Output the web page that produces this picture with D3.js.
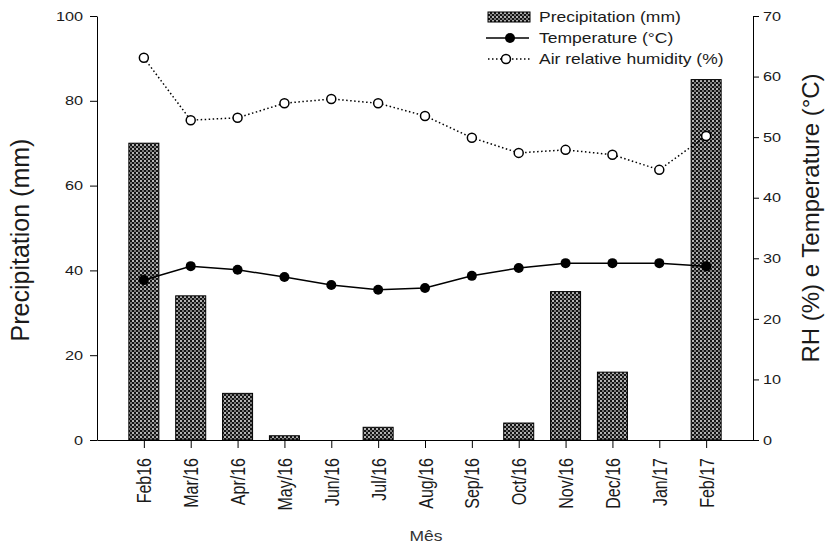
<!DOCTYPE html>
<html>
<head>
<meta charset="utf-8">
<script src="https://cdn.jsdelivr.net/npm/d3@7"></script>
<style>
  body { margin: 0; background: #fff; }
  text { font-family: "Liberation Sans", Arial, sans-serif; fill: #1a1a1a; }
</style>
</head>
<body>
<script>
var months = ["Feb16","Mar/16","Apr/16","May/16","Jun/16","Jul/16","Aug/16","Sep/16","Oct/16","Nov/16","Dec/16","Jan/17","Feb/17"];
var precipitation = [70, 34, 11, 1, 0, 3, 0, 0, 4, 35, 16, 0, 85];
var temperature = [26.4, 28.7, 28.1, 26.9, 25.6, 24.8, 25.1, 27.1, 28.4, 29.2, 29.2, 29.2, 28.7];
var humidity = [63.1, 52.8, 53.2, 55.6, 56.3, 55.6, 53.5, 49.9, 47.4, 47.9, 47.1, 44.6, 50.2];
var leftTicks = [0, 20, 40, 60, 80, 100];
var rightTicks = [0, 10, 20, 30, 40, 50, 60, 70];
var legendLabels = ["Precipitation (mm)", "Temperature (°C)", "Air relative humidity (%)"];

function init() {
    var w = 832;
    var h = 544;
    var left = 97, right = 753, top = 16, bottom = 440;
    var sx = 1.25; // text in the original is stretched sideways

    var svg = d3.select("body")
                .append("svg")
                .attr("width", w)
                .attr("height", h);

    // checkered fill for the bars
    var pat = svg.append("defs").append("pattern")
                .attr("id", "checks")
                .attr("width", 4)
                .attr("height", 4)
                .attr("patternUnits", "userSpaceOnUse");
    pat.append("rect").attr("width", 4).attr("height", 4).attr("fill", "#141414");
    pat.append("rect").attr("x", 0).attr("y", 0).attr("width", 2).attr("height", 2).attr("fill", "#b4b4b4");
    pat.append("rect").attr("x", 2).attr("y", 2).attr("width", 2).attr("height", 2).attr("fill", "#7a7a7a");

    var xScale = d3.scalePoint()
                .domain(months)
                .range([left, right])
                .padding(1);
    var yP = d3.scaleLinear().domain([0, 100]).range([bottom, top]);
    var yR = d3.scaleLinear().domain([0, 70]).range([bottom, top]);
    var barW = 30;

    // bars
    svg.selectAll("rect.bar")
        .data(precipitation)
        .enter()
        .append("rect")
        .attr("class", "bar")
        .attr("x", function(d, i) { return xScale(months[i]) - barW / 2; })
        .attr("y", function(d) { return yP(d); })
        .attr("width", barW)
        .attr("height", function(d) { return bottom - yP(d); })
        .attr("fill", "url(#checks)")
        .attr("stroke", "#000")
        .attr("stroke-width", 1)
        .style("display", function(d) { return d > 0 ? null : "none"; });

    // axes
    var axL = svg.append("g")
        .attr("transform", "translate(" + left + ",0)")
        .call(d3.axisLeft(yP).tickValues(leftTicks).tickSize(7).tickSizeOuter(0));
    axL.selectAll("text")
        .attr("x", -14 / sx)
        .attr("transform", "scale(" + sx + ",1)")
        .style("font-size", "13px");

    var axR = svg.append("g")
        .attr("transform", "translate(" + right + ",0)")
        .call(d3.axisRight(yR).tickValues(rightTicks).tickSize(6).tickSizeOuter(0));
    axR.selectAll("text")
        .attr("x", 10 / sx)
        .attr("transform", "scale(" + sx + ",1)")
        .style("font-size", "13px");

    var axB = svg.append("g")
        .attr("transform", "translate(0," + bottom + ")")
        .call(d3.axisBottom(xScale).tickSize(8).tickSizeOuter(0));
    axB.selectAll("text")
        .attr("x", -18)
        .attr("y", 0)
        .attr("dy", "0.35em")
        .attr("transform", "rotate(-90) scale(1," + sx + ")")
        .style("text-anchor", "end")
        .style("font-size", "16px");

    svg.selectAll(".domain, .tick line").attr("stroke", "#000");
    svg.selectAll(".tick text").attr("fill", "#1a1a1a").style("font-family", "'Liberation Sans', Arial, sans-serif");

    // lines
    var tempLine = d3.line()
        .x(function(d, i) { return xScale(months[i]); })
        .y(function(d) { return yR(d); });

    svg.append("path")
        .datum(temperature)
        .attr("d", tempLine)
        .attr("fill", "none")
        .attr("stroke", "#000")
        .attr("stroke-width", 1.5);

    svg.selectAll("circle.temp")
        .data(temperature)
        .enter()
        .append("circle")
        .attr("class", "temp")
        .attr("cx", function(d, i) { return xScale(months[i]); })
        .attr("cy", function(d) { return yR(d); })
        .attr("r", 5)
        .attr("fill", "#000");

    svg.append("path")
        .datum(humidity)
        .attr("d", tempLine)
        .attr("fill", "none")
        .attr("stroke", "#000")
        .attr("stroke-width", 1.5)
        .attr("stroke-dasharray", "1.5,2.5");

    svg.selectAll("circle.hum")
        .data(humidity)
        .enter()
        .append("circle")
        .attr("class", "hum")
        .attr("cx", function(d, i) { return xScale(months[i]); })
        .attr("cy", function(d) { return yR(d); })
        .attr("r", 4.5)
        .attr("fill", "#fff")
        .attr("stroke", "#000")
        .attr("stroke-width", 1.5);

    // axis titles
    svg.append("text")
        .attr("transform", "translate(29,240) rotate(-90)")
        .attr("text-anchor", "middle")
        .style("font-size", "25px")
        .text("Precipitation (mm)");

    svg.append("text")
        .attr("transform", "translate(819,218) rotate(-90)")
        .attr("text-anchor", "middle")
        .style("font-size", "24px")
        .text("RH (%) e Temperature (°C)");

    svg.append("text")
        .attr("transform", "translate(426,541) scale(" + sx + ",1)")
        .attr("text-anchor", "middle")
        .style("font-size", "14px")
        .style("fill", "#333")
        .text("Mês");

    // legend
    var lg = svg.append("g");
    var rowY = [17, 38, 59];
    lg.append("rect")
        .attr("x", 488).attr("y", rowY[0] - 5)
        .attr("width", 42).attr("height", 10)
        .attr("fill", "url(#checks)")
        .attr("stroke", "#000");
    lg.append("line")
        .attr("x1", 486).attr("x2", 529)
        .attr("y1", rowY[1]).attr("y2", rowY[1])
        .attr("stroke", "#000").attr("stroke-width", 1.5);
    lg.append("circle")
        .attr("cx", 510).attr("cy", rowY[1]).attr("r", 5).attr("fill", "#000");
    lg.append("line")
        .attr("x1", 488).attr("x2", 530)
        .attr("y1", rowY[2]).attr("y2", rowY[2])
        .attr("stroke", "#000").attr("stroke-width", 1.5)
        .attr("stroke-dasharray", "1.5,2.5");
    lg.append("circle")
        .attr("cx", 506).attr("cy", rowY[2]).attr("r", 4.5)
        .attr("fill", "#fff").attr("stroke", "#000").attr("stroke-width", 1.5);

    lg.selectAll("text")
        .data(legendLabels)
        .enter()
        .append("text")
        .attr("transform", function(d, i) { return "translate(539," + (rowY[i] + 5) + ") scale(" + sx + ",1)"; })
        .style("font-size", "14px")
        .text(function(d) { return d; });
}
window.onload = init
</script>
</body>
</html>
